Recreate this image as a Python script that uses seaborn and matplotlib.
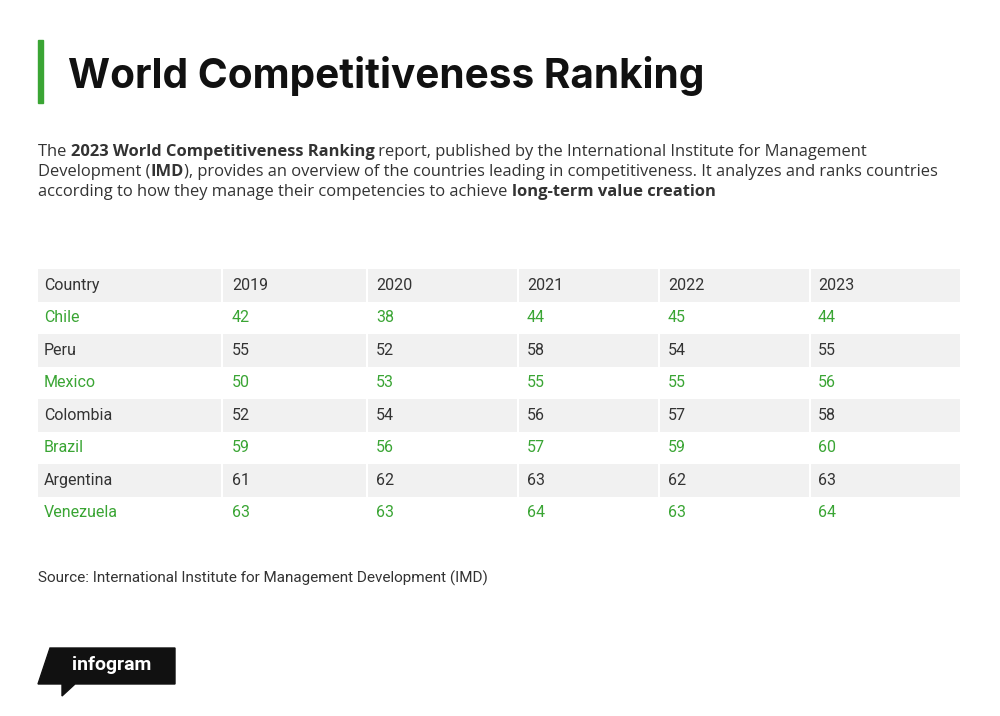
import matplotlib
matplotlib.use('Agg')
import matplotlib.pyplot as plt
import seaborn as sns
from matplotlib.patches import Rectangle, Polygon

sns.set_theme(style='white')
plt.rcParams['font.family'] = ['Roboto', 'DejaVu Sans']

years = ['2019', '2020', '2021', '2022', '2023']
countries = ['Chile', 'Peru', 'Mexico', 'Colombia', 'Brazil', 'Argentina', 'Venezuela']
ranks = [
    [42, 38, 44, 45, 44],
    [55, 52, 58, 54, 55],
    [50, 53, 55, 55, 56],
    [52, 54, 56, 57, 58],
    [59, 56, 57, 59, 60],
    [61, 62, 63, 62, 63],
    [63, 63, 64, 63, 64],
]

GREEN = '#3aa534'
DARK = '#333333'
BAND = '#f1f1f1'

fig = plt.figure(figsize=(10, 7.16), dpi=100)
ax = fig.add_axes([0, 0, 1, 1])
ax.set_xlim(0, 1000)
ax.set_ylim(716, 0)
ax.axis('off')

# title
ax.add_patch(Rectangle((38, 40), 5, 63, color=GREEN))
ax.text(68, 76, 'World Competitiveness Ranking', fontsize=29.2, fontweight='bold',
        color='#111111', va='center', family=['Inter', 'DejaVu Sans'])

# description with bold segments
fig.canvas.draw()
renderer = fig.canvas.get_renderer()
lines = [
    [('The ', False), ('2023 World Competitiveness Ranking', True),
     (' report, published by the International Institute for Management', False)],
    [('Development (', False), ('IMD', True),
     ('), provides an overview of the countries leading in competitiveness. It analyzes and ranks countries', False)],
    [('according to how they manage their competencies to achieve ', False), ('long-term value creation', True)],
]
inv = ax.transData.inverted()
for i, segs in enumerate(lines):
    x = 38
    y = 152 + i * 20
    for s, b in segs:
        t = ax.text(x, y, s, fontsize=11.85, color=DARK, va='center',
                    fontweight='bold' if b else 'normal', family=['Open Sans', 'DejaVu Sans'])
        bb = t.get_window_extent(renderer)
        x0, _ = inv.transform((bb.x0, 0))
        x1, _ = inv.transform((bb.x1, 0))
        x += x1 - x0

# table
col_x = [44, 232, 376, 527, 668, 818]
seps = [222, 367, 518, 659, 810]
row_h = 32.5
top = 269
fs = 11.5
ax.add_patch(Rectangle((38, top), 922, row_h, color=BAND, lw=0))
ax.text(col_x[0], top + row_h / 2, 'Country', fontsize=fs, color=DARK, va='center')
for j, yr in enumerate(years):
    ax.text(col_x[j + 1], top + row_h / 2, yr, fontsize=fs, color=DARK, va='center')
for i, c in enumerate(countries):
    y0 = top + (i + 1) * row_h
    if i % 2 == 1:
        ax.add_patch(Rectangle((38, y0), 922, row_h, color=BAND, lw=0))
    col = GREEN if i % 2 == 0 else DARK
    ax.text(col_x[0], y0 + row_h / 2, c, fontsize=fs, color=col, va='center')
    for j, v in enumerate(ranks[i]):
        ax.text(col_x[j + 1], y0 + row_h / 2, str(v), fontsize=fs, color=col, va='center')
for sx in seps:
    ax.plot([sx, sx], [top, top + 8 * row_h], color='white', lw=1.5)

ax.text(38, 578, 'Source: International Institute for Management Development (IMD)',
        fontsize=11, color=DARK, va='center')

# logo
ax.add_patch(Polygon([(50, 648), (175, 648), (175, 684), (75, 684), (62, 696), (62, 684),
                      (38, 684)], closed=True, color='#111111'))
ax.text(112, 665, 'infogram', fontsize=14, fontweight='bold', color='white',
        ha='center', va='center')

fig.savefig('out.png', dpi=100, facecolor='white')
